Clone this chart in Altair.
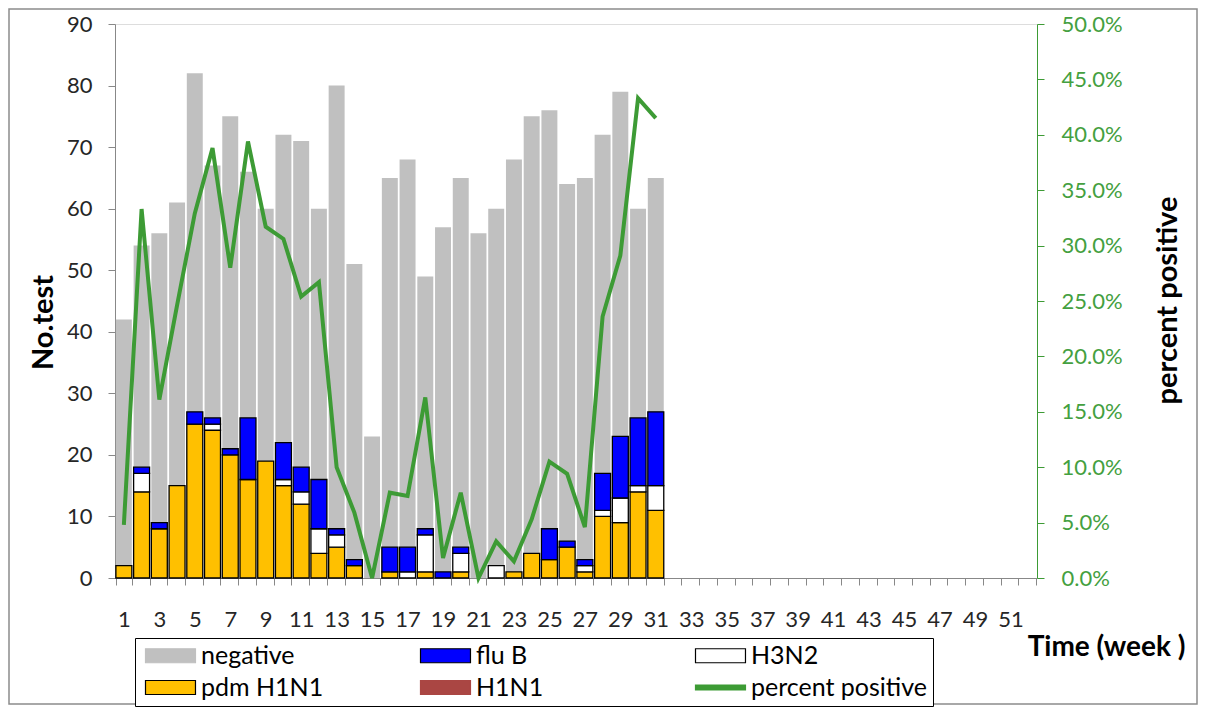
import altair as alt
import pandas as pd

# ---------------- data ----------------
weeks = list(range(1, 32))
all_weeks = list(range(1, 53))
total_tests = [42, 54, 56, 61, 82, 67, 75, 66, 60, 72, 71, 60, 80, 51, 23, 65,
               68, 49, 57, 65, 56, 60, 68, 75, 76, 64, 65, 72, 79, 60, 65]
pdm_h1n1 = [2, 14, 8, 15, 25, 24, 20, 16, 19, 15, 12, 4, 5, 2, 0, 1,
            0, 1, 0, 1, 0, 0, 1, 4, 3, 5, 1, 10, 9, 14, 11]
h1n1 = [0, 0, 0, 0, 0, 0, 0, 0, 0, 0, 0, 0, 0, 0, 0, 0,
        0, 0, 0, 0, 0, 0, 0, 0, 0, 0, 0, 0, 0, 0, 0]
h3n2 = [0, 3, 0, 0, 0, 1, 0, 0, 0, 1, 2, 4, 2, 0, 0, 0,
        1, 6, 0, 3, 0, 2, 0, 0, 0, 0, 1, 1, 4, 1, 4]
flu_b = [0, 1, 1, 0, 2, 1, 1, 10, 0, 6, 4, 8, 1, 1, 0, 4,
         4, 1, 1, 1, 0, 0, 0, 0, 5, 1, 1, 6, 10, 11, 12]
percent_positive = [4.8, 33.3, 16.1, 24.6, 32.9, 38.8, 28.0, 39.4, 31.7, 30.6, 25.4,
                    26.7, 10.0, 5.9, 0.0, 7.7, 7.4, 16.3, 1.8, 7.7, 0.0, 3.3, 1.5,
                    5.3, 10.5, 9.4, 4.6, 23.6, 29.1, 43.3, 41.5]
series_names = ["negative", "flu B", "H3N2", "pdm H1N1", "H1N1", "percent positive"]
stack_order = ["pdm H1N1", "H1N1", "H3N2", "flu B"]

# ---------------- styles ----------------
GREY = "#C0C0C0"
GREEN = "#3D9B35"
BLUE = "#0000FF"
ORANGE = "#FFC000"
BROWN = "#AA4643"
series_fill = [GREY, BLUE, "#FFFFFF", ORANGE, BROWN, GREEN]
series_stroke = [GREY, "#000000", "#000000", "#000000", BROWN, GREEN]
stack_fill = [ORANGE, BROWN, "#FFFFFF", BLUE]
BOX = "M-1,-1L6.14,-1L6.14,1L-1,1Z"
LINE = "M-1,-0.36L6.14,-0.36L6.14,0.36L-1,0.36Z"
series_shape = [BOX, BOX, BOX, BOX, BOX, LINE]
FONT = "Lato"

# ---------------- tables ----------------
totals_df = pd.DataFrame({"week": weeks, "total": total_tests, "pct": percent_positive})
values_by_type = {"pdm H1N1": pdm_h1n1, "H1N1": h1n1, "H3N2": h3n2, "flu B": flu_b}
rows = []
for rank, name in enumerate(stack_order):
    for w, v in zip(weeks, values_by_type[name]):
        if v > 0:
            rows.append({"week": w, "type": name, "count": v, "rank": rank})
stack_df = pd.DataFrame(rows)
legend_df = pd.DataFrame({"series": series_names})
frame_df = pd.DataFrame({"frame": [0]})

x_scale = alt.Scale(domain=all_weeks, paddingInner=0.1, paddingOuter=0.05)
y_scale = alt.Scale(domain=[0, 90], nice=False)

x_axis = alt.Axis(
    title="Time (week )", titleFont=FONT, titleFontSize=28, titleFontWeight="bold",
    titleColor="black", titleX=991, titleY=69, titleAlign="center", titleBaseline="middle",
    labelExpr="datum.value % 2 == 1 ? datum.label : ''", labelAngle=0, labelFont=FONT,
    labelFontSize=22, labelColor="#262626", labelPadding=24, labelOverlap=False,
    tickBand="extent", tickSize=7, tickColor="#888888", domainColor="#888888", grid=False,
)
y_axis = alt.Axis(
    title="No.test", titleFont=FONT, titleFontSize=29, titleFontWeight="bold",
    titleColor="black", titleAngle=270, titleX=-72, titleY=298, titleAlign="center",
    titleBaseline="middle", values=list(range(0, 91, 10)), labelFont=FONT, labelFontSize=22,
    labelColor="#262626", labelPadding=16, tickSize=7, tickColor="#888888",
    domainColor="#888888", grid=False,
)
y2_axis = alt.Axis(
    orient="right", title="percent positive", titleFont=FONT, titleFontSize=29,
    titleFontWeight="bold", titleColor="black", titleAngle=270, titleX=130, titleY=276,
    titleAlign="center", titleBaseline="middle", values=list(range(0, 51, 5)),
    labelExpr="format(datum.value, '.1f') + '%'", labelFont=FONT, labelFontSize=22,
    labelColor="#44A040", labelPadding=17, tickSize=7, tickColor=GREEN, domainColor=GREEN,
    grid=False,
)

# chart border (decoration, not data)
frame = alt.Chart(frame_df).mark_rect(
    filled=False, stroke="#8C8C8C", strokeWidth=1.5
).encode(x=alt.value(-106), x2=alt.value(1082), y=alt.value(-15), y2=alt.value(680))

grey = alt.Chart(totals_df).mark_bar(color=GREY).encode(
    x=alt.X("week:O", scale=x_scale, axis=x_axis),
    y=alt.Y("total:Q", scale=y_scale, axis=y_axis),
)
stacked = alt.Chart(stack_df).mark_bar(stroke="black", strokeWidth=1.3).encode(
    x=alt.X("week:O", scale=x_scale, axis=x_axis),
    y=alt.Y("count:Q", stack="zero", scale=y_scale, axis=y_axis),
    color=alt.Color("type:N", scale=alt.Scale(domain=stack_order, range=stack_fill), legend=None),
    order=alt.Order("rank:Q"),
)
line = alt.Chart(totals_df).mark_line(color=GREEN, strokeWidth=4).encode(
    x=alt.X("week:O", scale=x_scale, axis=x_axis),
    y=alt.Y("pct:Q", scale=alt.Scale(domain=[0, 50], nice=False), axis=y2_axis),
)

leg = alt.Legend(
    title=None, orient="none", legendX=20, legendY=614, direction="horizontal", columns=3,
    labelFont=FONT, labelFontSize=25, labelColor="black", labelOffset=36, labelLimit=400,
    symbolSize=196, symbolStrokeWidth=1.2, symbolOpacity=1, strokeColor="black",
    fillColor="white", padding=5, columnPadding=37, rowPadding=6, gridAlign="all",
)
legend_layer = alt.Chart(legend_df).mark_point(filled=True, size=0, opacity=1).encode(
    fill=alt.Fill("series:N", scale=alt.Scale(domain=series_names, range=series_fill), legend=leg),
    stroke=alt.Stroke("series:N", scale=alt.Scale(domain=series_names, range=series_stroke), legend=leg),
    shape=alt.Shape("series:N", scale=alt.Scale(domain=series_names, range=series_shape), legend=leg),
)

bars = alt.layer(grey, stacked)
chart = alt.layer(frame, bars, line, legend_layer).resolve_scale(y="independent").properties(
    width=922, height=554, padding={"left": 0, "top": 0, "right": 0, "bottom": 0},
).configure_view(stroke=None).configure(background="white")

chart.save("out.html", embed_options={"renderer": "svg", "actions": False})
